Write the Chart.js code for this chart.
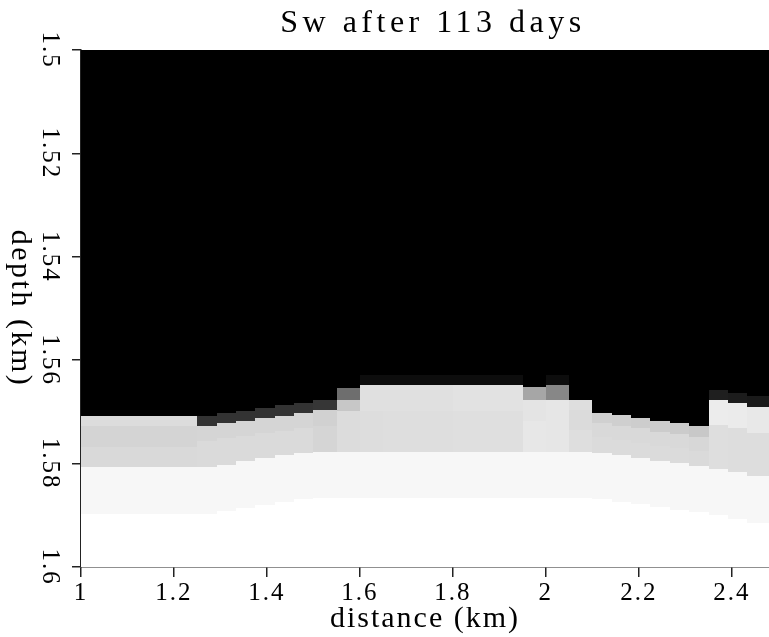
<!DOCTYPE html>
<html>
<head>
<meta charset="utf-8">
<title>Sw after 113 days</title>
<script src="https://cdn.jsdelivr.net/npm/chart.js@4.4.1/dist/chart.umd.min.js"></script>
<style>
  html, body { margin: 0; padding: 0; background: #fff; }
  canvas { display: block; }
</style>
</head>
<body>
<canvas id="swChart" width="769" height="637"></canvas>
<script>
// column edges of the grid (distance, km)
const colEdges = [1, 1.25, 1.2917, 1.3333, 1.375, 1.4167, 1.4583, 1.5, 1.55, 1.6, 1.65, 1.7, 1.75,
  1.8, 1.85, 1.9, 1.95, 2.0, 2.05, 2.1, 2.1417, 2.1833, 2.225, 2.2667, 2.3083, 2.35, 2.3917, 2.4333, 2.48];

// depth (km) where each band starts, one value per column
const frontTop = [1.5707, 1.5707, 1.5702, 1.5698, 1.5692, 1.5687, 1.5682, 1.5677, 1.5654, 1.5629, 1.5629, 1.5629, 1.5629,
  1.5629, 1.5629, 1.5629, 1.5651, 1.5629, 1.5677, 1.5702, 1.5706, 1.5712, 1.5717, 1.5721, 1.5727, 1.5658, 1.5663, 1.5670];
const secondTop = [1.5728, 1.5727, 1.5722, 1.5718, 1.5712, 1.5707, 1.5703, 1.5697, 1.5677, 1.5648, 1.5648, 1.5648, 1.5648,
  1.5648, 1.5648, 1.5648, 1.5677, 1.5648, 1.5696, 1.5722, 1.5727, 1.5732, 1.5738, 1.5743, 1.5748, 1.5677, 1.5683, 1.5691];
const restTop = [1.5767, 1.5756, 1.5750, 1.5747, 1.5741, 1.5737, 1.5731, 1.5727, 1.5698, 1.5698, 1.5698, 1.5698, 1.5698,
  1.5698, 1.5698, 1.5698, 1.5718, 1.5677, 1.5735, 1.5748, 1.5754, 1.5760, 1.5766, 1.5770, 1.5776, 1.5726, 1.5732, 1.5740];
const lightTop = [1.5807, 1.5807, 1.5803, 1.5795, 1.5790, 1.5784, 1.5780, 1.5777, 1.5778, 1.5778, 1.5778, 1.5778, 1.5778,
  1.5778, 1.5778, 1.5778, 1.5778, 1.5778, 1.5777, 1.5779, 1.5784, 1.5790, 1.5795, 1.5799, 1.5805, 1.5811, 1.5817, 1.5824];
const whiteTop = [1.5897, 1.5897, 1.5892, 1.5886, 1.5880, 1.5874, 1.5869, 1.5867, 1.5867, 1.5867, 1.5867, 1.5867, 1.5867,
  1.5867, 1.5867, 1.5867, 1.5867, 1.5867, 1.5867, 1.5869, 1.5874, 1.5879, 1.5884, 1.5889, 1.5894, 1.5900, 1.5907, 1.5914];

// Sw of each band (0 = black, 1 = white)
const frontSw = [0.863, 0.20, 0.20, 0.20, 0.20, 0.20, 0.20, 0.21, 0.43, 0.05, 0.05, 0.05, 0.05,
  0.05, 0.05, 0.05, 0.65, 0.05, 0.87, 0.815, 0.81, 0.805, 0.80, 0.795, 0.785, 0.12, 0.11, 0.10];
const secondSw = [0.831, 0.835, 0.835, 0.835, 0.835, 0.835, 0.835, 0.82, 0.78, 0.88, 0.88, 0.88, 0.88,
  0.885, 0.885, 0.885, 0.895, 0.53, 0.86, 0.85, 0.85, 0.85, 0.85, 0.85, 0.845, 0.925, 0.92, 0.91];
const restSw = [0.851, 0.855, 0.855, 0.855, 0.855, 0.855, 0.855, 0.835, 0.863, 0.867, 0.87, 0.87, 0.87,
  0.875, 0.875, 0.875, 0.905, 0.90, 0.87, 0.86, 0.86, 0.86, 0.86, 0.86, 0.855, 0.87, 0.865, 0.865];
const lightSw = 0.97;
const whiteSw = 1;

const xTicks = [1, 1.2, 1.4, 1.6, 1.8, 2, 2.2, 2.4];
const yTicks = [1.5, 1.52, 1.54, 1.56, 1.58, 1.6];
const depthMin = 1.5, depthMax = 1.6;

function gray(sw) {
  const g = Math.round(sw * 255);
  return 'rgb(' + g + ',' + g + ',' + g + ')';
}

// paints the grid cells through the chart scales
const swCells = {
  id: 'swCells',
  beforeDatasetsDraw(chart) {
    const {ctx, chartArea, scales: {x, y}} = chart;
    ctx.save();
    ctx.beginPath();
    ctx.rect(chartArea.left, chartArea.top, chartArea.width, chartArea.height);
    ctx.clip();
    for (let i = 0; i < colEdges.length - 1; i++) {
      const x0 = Math.round(x.getPixelForValue(colEdges[i]));
      const x1 = Math.round(x.getPixelForValue(colEdges[i + 1]));
      const bands = [
        [depthMin, frontTop[i], 0],
        [frontTop[i], secondTop[i], frontSw[i]],
        [secondTop[i], restTop[i], secondSw[i]],
        [restTop[i], lightTop[i], restSw[i]],
        [lightTop[i], whiteTop[i], lightSw],
        [whiteTop[i], depthMax, whiteSw]
      ];
      bands.forEach(([d0, d1, sw]) => {
        const y0 = Math.round(y.getPixelForValue(d0));
        const y1 = Math.round(y.getPixelForValue(d1));
        ctx.fillStyle = gray(sw);
        ctx.fillRect(x0, y0, x1 - x0, y1 - y0);
      });
    }
    ctx.restore();
  }
};

// the plot fonts are widely spaced; the main title and the y title
// (which reads top to bottom) are drawn here
const spacedText = {
  id: 'spacedText',
  beforeDraw(chart) {
    chart.ctx.letterSpacing = '2px';
  },
  afterDraw(chart) {
    const {ctx, chartArea} = chart;
    ctx.save();
    ctx.fillStyle = '#000';
    ctx.textAlign = 'center';
    ctx.letterSpacing = '4.5px';
    ctx.font = '32px "Liberation Serif"';
    ctx.textBaseline = 'alphabetic';
    ctx.fillText('Sw after 113 days', (chartArea.left + chartArea.right) / 2 + 8, 32);

    ctx.letterSpacing = '2.5px';
    ctx.font = '30px "Liberation Serif"';
    ctx.textBaseline = 'middle';
    ctx.translate(20, (chartArea.top + chartArea.bottom) / 2);
    ctx.rotate(Math.PI / 2);
    ctx.fillText('depth (km)', 0, 0);
    ctx.restore();
  }
};

const fmt = v => String(Number(v.toFixed(2)));

new Chart(document.getElementById('swChart'), {
  type: 'scatter',
  data: { datasets: [] },
  plugins: [swCells, spacedText],
  options: {
    responsive: false,
    animation: false,
    devicePixelRatio: 1,
    layout: { padding: { top: 50 } },
    plugins: {
      legend: { display: false },
      tooltip: { enabled: false },
      title: { display: false }
    },
    scales: {
      x: {
        type: 'linear',
        position: 'bottom',
        min: 1,
        max: 2.48,
        afterBuildTicks: s => { s.ticks = xTicks.map(v => ({ value: v })); },
        afterFit: s => { s.height = 70; },
        grid: { drawOnChartArea: false, drawTicks: true, tickLength: 10, color: '#222', lineWidth: 1.5 },
        border: { display: true, color: '#222', width: 1.5 },
        ticks: {
          autoSkip: false,
          maxRotation: 0,
          padding: 1,
          color: '#000',
          font: { family: '"Liberation Serif"', size: 25 },
          callback: fmt
        },
        title: {
          display: true,
          text: 'distance (km)',
          color: '#000',
          font: { family: '"Liberation Serif"', size: 30, lineHeight: 1 },
          padding: { top: 0, bottom: 3 }
        }
      },
      y: {
        type: 'linear',
        position: 'left',
        reverse: true,
        min: depthMin,
        max: depthMax,
        afterBuildTicks: s => { s.ticks = yTicks.map(v => ({ value: v })); },
        afterFit: s => { s.width = 81; },
        grid: { drawOnChartArea: false, drawTicks: true, tickLength: 9, color: '#222', lineWidth: 1.5 },
        border: { display: true, color: '#222', width: 1.5 },
        ticks: {
          autoSkip: false,
          minRotation: -90,
          maxRotation: -90,
          crossAlign: 'center',
          padding: 1,
          color: '#000',
          font: { family: '"Liberation Serif"', size: 25 },
          callback: fmt
        },
        title: { display: false }
      }
    }
  }
});
</script>
</body>
</html>
